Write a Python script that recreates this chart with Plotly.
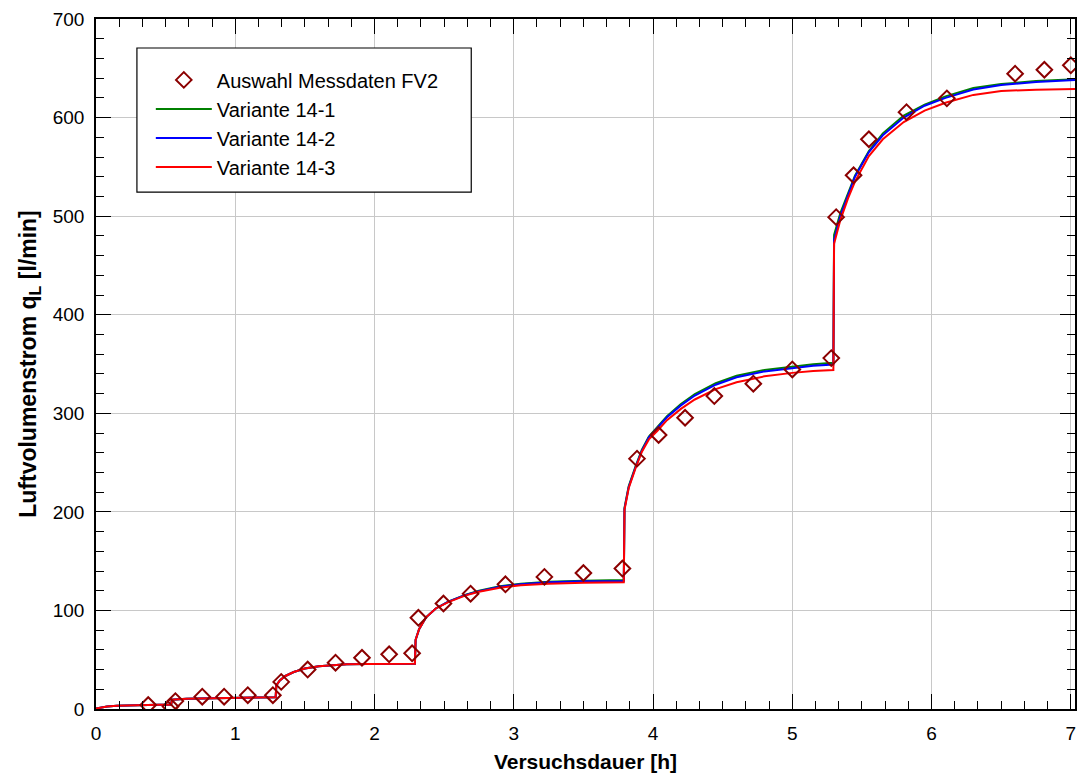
import plotly.graph_objects as go

# Measured air flow, selected points (test FV2)
t_meas = [0.375, 0.535, 0.57, 0.763, 0.92, 1.09, 1.27, 1.33, 1.52, 1.72, 1.91, 2.105,
          2.27, 2.315, 2.495, 2.69, 2.94, 3.22, 3.50, 3.78, 3.885, 4.04, 4.23, 4.44,
          4.72, 5.00, 5.28, 5.315, 5.44, 5.55, 5.82, 6.11, 6.60, 6.81, 7.00]
q_meas = [4, 2.5, 8, 12.5, 12.5, 14, 14, 27.5, 40, 47, 52, 55.5,
          56.5, 92.5, 107, 117, 126.5, 134, 138, 142.5, 254, 278, 295.5, 317.5,
          330, 344.5, 356, 499, 541.5, 578, 605.5, 619.5, 644.5, 648.5, 653]

# Simulated air flow, shared time base (repeated times are the pressure steps)
t_sim = [0, 0.03, 0.08, 0.15, 0.25, 0.35, 0.45, 0.54, 0.545, 0.65, 0.8, 1.0, 1.15,
         1.29, 1.295, 1.32, 1.36, 1.42, 1.5, 1.6, 1.7, 1.8, 1.95, 2.1, 2.29,
         2.295, 2.32, 2.37, 2.44, 2.53, 2.65, 2.75, 2.9, 3.05, 3.25, 3.5, 3.79,
         3.795, 3.825, 3.875, 3.92, 3.97, 4.03, 4.1, 4.2, 4.3, 4.45, 4.6, 4.8, 5.0,
         5.15, 5.295,
         5.3, 5.345, 5.4, 5.45, 5.55, 5.65, 5.8, 5.95, 6.1, 6.3, 6.5, 6.75, 7.03]

q_14_1 = [0.5, 1.5, 2.5, 3.2, 3.7, 4.0, 4.2, 4.4, 9.5, 10.5, 11.0, 11.5, 11.7,
          11.8, 24, 29, 33.5, 37.5, 41, 43.3, 44.6, 45.3, 45.7, 45.9, 46,
          70, 81, 93, 102, 109, 115.8, 120, 124.5, 127, 129, 130.2, 130.8,
          204, 226, 246.5, 263, 276.5, 286, 297, 309.5, 319.5, 330.5, 338, 344, 347.5,
          349.8, 351.2,
          481, 503, 524, 541, 566, 584, 602, 613, 621.5, 630, 634, 637, 639]

q_14_2 = [0.5, 1.5, 2.5, 3.2, 3.7, 4.0, 4.2, 4.4, 9.5, 10.5, 11.0, 11.5, 11.7,
          11.8, 24, 29, 33.5, 37.5, 41, 43.3, 44.6, 45.3, 45.7, 45.9, 46,
          70, 81, 93, 102, 109, 115.5, 119.5, 124, 126.5, 128.5, 129.5, 129.8,
          203, 225, 245.5, 262, 275.5, 285, 296, 308, 318, 329, 336.5, 342.5, 346,
          348.2, 349.5,
          476, 500, 522, 540, 565, 582, 600, 612, 620, 628.5, 633, 636, 638]

q_14_3 = [0.5, 1.5, 2.5, 3.2, 3.7, 4.0, 4.2, 4.4, 9.5, 10.5, 11.0, 11.5, 11.7,
          11.8, 24, 29, 33.5, 37.5, 41, 43.3, 44.6, 45.3, 45.7, 45.9, 46,
          70, 81, 93, 102, 108.5, 115, 119, 123, 125.5, 127, 128, 128.5,
          202, 224, 244.5, 261, 273.5, 282, 293, 304.5, 314, 324.5, 331.5, 337.5, 341,
          343, 343.8,
          472, 496, 518, 535, 561, 578, 595.5, 607, 615, 623, 627, 628.3, 629]

x_ticks = [0, 1, 2, 3, 4, 5, 6, 7]
y_ticks = [0, 100, 200, 300, 400, 500, 600, 700]

FONT = "Liberation Sans, Arial, sans-serif"

fig = go.Figure()

fig.add_trace(go.Scatter(x=t_sim, y=q_14_1, mode="lines", name="Variante 14-1",
                         line=dict(color="#008000", width=2), legendrank=2))
fig.add_trace(go.Scatter(x=t_sim, y=q_14_2, mode="lines", name="Variante 14-2",
                         line=dict(color="#0000ff", width=2), legendrank=3))
fig.add_trace(go.Scatter(x=t_sim, y=q_14_3, mode="lines", name="Variante 14-3",
                         line=dict(color="#ff0000", width=2), legendrank=4))
fig.add_trace(go.Scatter(x=t_meas, y=q_meas, mode="markers", name="Auswahl Messdaten FV2",
                         marker=dict(symbol="diamond-open", size=12, color="#8b0000",
                                     line=dict(width=2, color="#8b0000")),
                         legendrank=1))

axis_common = dict(
    showline=True, linecolor="black", linewidth=1.5, mirror="ticks",
    ticks="inside", ticklen=15, tickwidth=1.2, tickcolor="black",
    showgrid=True, gridcolor="#c8c8c8", gridwidth=1, zeroline=False,
    tickfont=dict(family=FONT, size=19, color="black"),
)

fig.update_xaxes(
    range=[0, 7.03], tickvals=x_ticks, ticktext=[str(v) for v in x_ticks],
    minor=dict(dtick=1 / 6, tick0=0, ticks="inside", ticklen=8, tickcolor="black",
               tickwidth=1.2, showgrid=False),
    title=dict(text="<b>Versuchsdauer [h]</b>", font=dict(family=FONT, size=21, color="black"),
               standoff=12),
    ticklabelstandoff=6,
    **axis_common,
)
fig.update_yaxes(
    range=[0, 700], tickvals=y_ticks, ticktext=[str(v) for v in y_ticks],
    minor=dict(dtick=20, tick0=0, ticks="inside", ticklen=8, tickcolor="black",
               tickwidth=1.2, showgrid=False),
    title=dict(text="<b>Luftvolumenstrom q<sub>L</sub> [l/min]</b>",
               font=dict(family=FONT, size=23, color="black"), standoff=10),
    ticklabelstandoff=6,
    **axis_common,
)

# Legend frame drawn as a white box above the grid
fig.add_shape(type="rect", xref="paper", yref="paper", x0=0.0418, x1=0.3833, y0=0.749, y1=0.958,
              line=dict(color="black", width=1.2), fillcolor="white", layer="above")

fig.update_layout(
    width=1080, height=775,
    margin=dict(l=96, r=3, t=19, b=66),
    plot_bgcolor="white", paper_bgcolor="white",
    font=dict(family=FONT, color="black"),
    showlegend=True,
    legend=dict(x=0.056, y=0.94, xanchor="left", yanchor="top",
                bgcolor="rgba(0,0,0,0)", borderwidth=0,
                font=dict(family=FONT, size=20, color="black"),
                itemwidth=56, traceorder="normal"),
)

fig.write_html("out.html")
